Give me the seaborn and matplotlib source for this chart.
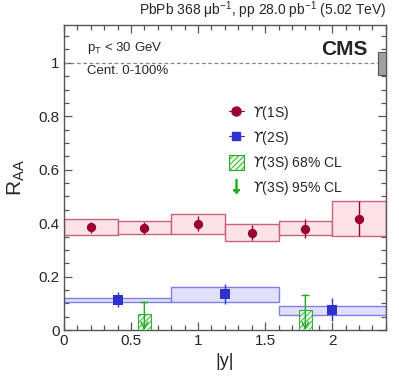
import numpy as np
import matplotlib
matplotlib.use("Agg")
import matplotlib.pyplot as plt
import seaborn as sns
from matplotlib.patches import Rectangle
from matplotlib.lines import Line2D
from matplotlib.ticker import MultipleLocator

# data
bin_lo_1s = [0.0, 0.4, 0.8, 1.2, 1.6, 2.0]
bin_hi_1s = [0.4, 0.8, 1.2, 1.6, 2.0, 2.4]
x_1s = [0.2, 0.6, 1.0, 1.4, 1.8, 2.2]
raa_1s = [0.385, 0.383, 0.396, 0.364, 0.379, 0.417]
stat_lo_1s = [0.364, 0.361, 0.370, 0.336, 0.346, 0.351]
stat_hi_1s = [0.403, 0.403, 0.427, 0.395, 0.415, 0.484]
syst_lo_1s = [0.356, 0.360, 0.360, 0.332, 0.355, 0.351]
syst_hi_1s = [0.415, 0.407, 0.433, 0.396, 0.407, 0.482]

bin_lo_2s = [0.0, 0.8, 1.6]
bin_hi_2s = [0.8, 1.6, 2.4]
x_2s = [0.4, 1.2, 2.0]
raa_2s = [0.113, 0.134, 0.074]
stat_lo_2s = [0.085, 0.096, 0.035]
stat_hi_2s = [0.143, 0.172, 0.122]
syst_lo_2s = [0.105, 0.106, 0.055]
syst_hi_2s = [0.122, 0.160, 0.092]

x_3s = [0.6, 1.8]
cl68_3s = [0.062, 0.074]
cl95_3s = [0.105, 0.132]

glob_lo, glob_hi = 0.953, 1.042

sns.set_style("ticks")
plt.rcParams['font.family'] = ['Liberation Sans', 'DejaVu Sans']
plt.rcParams['mathtext.fontset'] = 'custom'
plt.rcParams['mathtext.rm'] = 'Liberation Sans'
plt.rcParams['mathtext.it'] = 'Liberation Sans:italic'

red = "#990033"
red_fill = "#fde2e6"
red_edge = "#c8607e"
blue = "#3030cc"
blue_fill = "#e0e0fa"
blue_edge = "#8080e0"
green = "#22aa22"

fig = plt.figure(figsize=(3.99, 3.83), dpi=100)
ax = fig.add_axes([0.160, 0.138, 0.807, 0.797])

# systematic boxes
for lo, hi, ylo, yhi in zip(bin_lo_1s, bin_hi_1s, syst_lo_1s, syst_hi_1s):
    ax.add_patch(Rectangle((lo, ylo), hi - lo, yhi - ylo, facecolor=red_fill,
                           edgecolor=red_edge, lw=1.0, zorder=2))
for lo, hi, ylo, yhi in zip(bin_lo_2s, bin_hi_2s, syst_lo_2s, syst_hi_2s):
    ax.add_patch(Rectangle((lo, ylo), hi - lo, yhi - ylo, facecolor=blue_fill,
                           edgecolor=blue_edge, lw=1.0, zorder=2))

# stat errors
ax.vlines(x_1s, stat_lo_1s, stat_hi_1s, color=red, lw=1.0, zorder=3)
ax.vlines(x_2s, stat_lo_2s, stat_hi_2s, color=blue, lw=1.0, zorder=3)

sns.scatterplot(x=x_1s, y=raa_1s, ax=ax, marker="o", s=45, color=red,
                edgecolor=red, linewidth=0, zorder=4)
sns.scatterplot(x=x_2s, y=raa_2s, ax=ax, marker="s", s=45, color=blue,
                edgecolor=blue, linewidth=0, zorder=4)

# upsilon 3S limits
plt.rcParams['hatch.color'] = green
plt.rcParams['hatch.linewidth'] = 0.6
for xc, y68, y95 in zip(x_3s, cl68_3s, cl95_3s):
    ax.add_patch(Rectangle((xc - 0.05, 0), 0.1, y68, facecolor="#e6f5e6",
                           edgecolor=green, hatch="//////", lw=0.8, zorder=5, alpha=0.9))
    ax.annotate("", xy=(xc, 0.0), xytext=(xc, y95),
                arrowprops=dict(arrowstyle="->", color=green, lw=1.0,
                                shrinkA=0, shrinkB=0, mutation_scale=12), zorder=6)
    ax.hlines(y95, xc - 0.03, xc + 0.03, color=green, lw=1.0, zorder=6)

# reference line and global uncertainty
ax.axhline(1.0, color="#888888", ls=(0, (3, 2)), lw=0.9, zorder=1)
ax.add_patch(Rectangle((2.345, glob_lo), 0.055, glob_hi - glob_lo,
                       facecolor="#a0a0a0", edgecolor="#555555", lw=0.8,
                       zorder=5, clip_on=False))

ax.set_xlim(0, 2.4)
ax.set_ylim(0, 1.142)
ax.xaxis.set_major_locator(MultipleLocator(0.5))
ax.xaxis.set_minor_locator(MultipleLocator(0.1))
ax.yaxis.set_major_locator(MultipleLocator(0.2))
ax.yaxis.set_minor_locator(MultipleLocator(0.05))
ax.set_xticks([0, 0.5, 1, 1.5, 2])
ax.set_xticklabels(["0", "0.5", "1", "1.5", "2"])
ax.set_yticks([0, 0.2, 0.4, 0.6, 0.8, 1])
ax.set_yticklabels(["0", "0.2", "0.4", "0.6", "0.8", "1"])
ax.tick_params(which="both", direction="in", top=True, right=True,
               labelsize=11, color="#555555", pad=3)
ax.tick_params(which="major", length=6, width=0.9)
ax.tick_params(which="minor", length=3.5, width=0.9)
for sp in ax.spines.values():
    sp.set_color("#555555")
    sp.set_linewidth(1.0)

ax.set_xlabel("|y|", fontsize=13, labelpad=2)
ax.set_ylabel(r"R$_{\mathregular{AA}}$", fontsize=15, labelpad=2)
ax.yaxis.set_label_coords(-0.115, 0.5)
ax.xaxis.set_label_coords(0.5, -0.075)

# text
fig.text(0.968, 0.945, r"PbPb 368 μb$^{\mathregular{-1}}$, pp 28.0 pb$^{\mathregular{-1}}$ (5.02 TeV)",
         ha="right", va="bottom", fontsize=10)
ax.text(0.945, 0.92, "CMS", transform=ax.transAxes, ha="right", va="center",
        fontsize=15, fontweight="bold")
ax.text(0.071, 0.925, r"p$_{\mathregular{T}}$ < 30 GeV", transform=ax.transAxes,
        ha="left", va="center", fontsize=9.5)
ax.text(0.071, 0.849, "Cent. 0-100%", transform=ax.transAxes,
        ha="left", va="center", fontsize=9.5)

# legend
handles = [
    Line2D([], [], marker="o", color=red, ls="-", lw=0.8, markersize=6.5),
    Line2D([], [], marker="s", color=blue, ls="-", lw=0.8, markersize=6),
    Rectangle((0, 0), 1, 1, facecolor="#e6f5e6", edgecolor=green, hatch="//////", lw=0.8),
    Line2D([], [], marker=r"$\downarrow$", color=green, ls="none", markersize=10),
]
labels = [r"$ϒ$(1S)", r"$ϒ$(2S)", r"$ϒ$(3S) 68% CL", r"$ϒ$(3S) 95% CL"]
leg = ax.legend(handles, labels, loc="upper left", bbox_to_anchor=(0.495, 0.758),
                frameon=False, fontsize=10, handlelength=1.1, handleheight=1.2,
                labelspacing=0.5, handletextpad=0.55, borderaxespad=0)
for t in leg.get_texts():
    t.set_math_fontfamily("dejavusans")

fig.savefig("out.png", dpi=100)
